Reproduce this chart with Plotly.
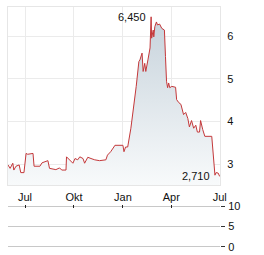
import plotly.graph_objects as go

dates = ["2023-05-30","2023-06-03","2023-06-08","2023-06-10","2023-06-14","2023-06-20","2023-06-23","2023-06-29",
         "2023-07-03","2023-07-06","2023-07-16","2023-07-18","2023-07-29","2023-08-02","2023-08-13","2023-08-16",
         "2023-08-28","2023-09-04","2023-09-08","2023-09-16","2023-09-17","2023-09-23","2023-09-29","2023-10-03",
         "2023-10-08","2023-10-12","2023-10-18","2023-10-21","2023-10-27","2023-11-02","2023-11-09","2023-11-18",
         "2023-11-30","2023-12-03","2023-12-09","2023-12-15","2023-12-17","2024-01-01","2024-01-03","2024-01-06",
         "2024-01-10","2024-01-16","2024-01-24","2024-01-26","2024-01-31","2024-02-02","2024-02-06","2024-02-08",
         "2024-02-11","2024-02-13","2024-02-17","2024-02-21","2024-02-23","2024-02-24","2024-02-27","2024-02-28",
         "2024-03-01","2024-03-04","2024-03-06","2024-03-10","2024-03-14","2024-03-19","2024-03-21","2024-03-23",
         "2024-03-25","2024-03-27","2024-03-29","2024-04-02","2024-04-09","2024-04-11","2024-04-15","2024-04-19",
         "2024-04-24","2024-04-28","2024-05-02","2024-05-05","2024-05-09","2024-05-13","2024-05-17","2024-05-20",
         "2024-05-24","2024-05-26","2024-05-30","2024-06-03","2024-06-16","2024-06-18","2024-06-20","2024-06-22",
         "2024-06-24","2024-06-28","2024-07-01"]
prices = [2.98,2.90,3.02,2.86,2.95,2.98,2.80,2.80,
          3.25,3.23,3.25,2.95,2.95,3.03,3.08,2.90,
          2.87,2.91,2.86,2.86,3.17,3.09,3.02,3.13,
          3.10,3.17,3.13,3.02,3.16,3.13,3.10,3.08,
          3.10,3.21,3.29,3.40,3.44,3.44,3.29,3.40,
          3.40,3.84,4.59,4.82,5.40,5.44,5.60,5.17,
          5.36,5.17,5.44,5.72,6.45,5.95,6.14,5.98,
          6.22,6.33,6.26,6.28,6.18,6.14,5.52,4.94,
          4.79,4.90,4.79,4.82,4.80,4.51,4.44,4.40,
          4.16,4.21,4.07,3.87,4.02,3.84,3.91,3.75,
          3.75,4.02,3.81,3.65,3.65,3.33,2.98,2.74,
          2.80,2.79,2.71]

tick_dates = ["2023-07-01","2023-10-01","2024-01-01","2024-04-01","2024-07-01"]
tick_text = ["Jul","Okt","Jan","Apr","Jul"]
y_ticks = [3, 4, 5, 6]
vol_ticks = [0, 5, 10]
peak_label = "6,450"
last_label = "2,710"

W, H = 264, 255
FONT = "Liberation Sans"

fig = go.Figure()
fig.add_trace(go.Scatter(
    x=dates, y=prices, mode="lines",
    line=dict(color="#c4383a", width=1),
    fill="tozeroy",
    fillgradient=dict(type="vertical", start=2.5, stop=6.5,
                      colorscale=[[0, "#f8fafb"], [1, "#c6d2db"]]),
    xaxis="x", yaxis="y", hoverinfo="skip"))

# invisible trace for lower panel
fig.add_trace(go.Scatter(x=[dates[0]], y=[None], xaxis="x2", yaxis="y2",
                         mode="lines", showlegend=False))

peak_i = prices.index(max(prices))
fig.add_annotation(x=dates[peak_i], y=prices[peak_i], text=peak_label, showarrow=False,
                   xanchor="right", yanchor="middle", xshift=-3,
                   font=dict(family=FONT, size=11, color="#111"), xref="x", yref="y")
fig.add_annotation(x=dates[-1], y=prices[-1], text=last_label, showarrow=False,
                   xanchor="right", yanchor="middle", xshift=-8,
                   font=dict(family=FONT, size=11, color="#111"), xref="x", yref="y")

xrange = ["2023-05-30", "2024-07-01 12:00"]
xd = [8 / W, 220 / W]
fig.update_layout(
    width=W, height=H, autosize=False,
    margin=dict(l=0, r=0, t=0, b=0),
    paper_bgcolor="white", plot_bgcolor="white",
    showlegend=False,
    font=dict(family=FONT, size=11, color="#111"),
    xaxis=dict(domain=xd, range=xrange, type="date",
               tickvals=tick_dates, ticktext=tick_text,
               showgrid=True, gridcolor="#ebebeb", gridwidth=1,
               showline=True, linecolor="#e6e6e6", mirror=True,
               ticks="", ticklabelstandoff=2, automargin=False,
               zeroline=False, anchor="y"),
    yaxis=dict(domain=[1 - 185 / H, 1 - 7 / H], range=[2.51, 6.68],
               side="right", tickvals=y_ticks,
               showgrid=True, gridcolor="#ebebeb", gridwidth=1,
               showline=True, linecolor="#e6e6e6", mirror=True,
               ticks="", ticklabelstandoff=4, automargin=False,
               zeroline=False, anchor="x"),
    xaxis2=dict(domain=xd, range=xrange, type="date",
                tickvals=tick_dates[:-1], showticklabels=False,
                side="top", ticks="inside", ticklen=3, tickcolor="#222",
                showgrid=False, showline=False, zeroline=False,
                automargin=False, anchor="y2"),
    yaxis2=dict(domain=[1 - 248 / H, 1 - 205 / H], range=[-0.25, 10.25],
                side="right", tickvals=vol_ticks,
                showgrid=True, gridcolor="#c8c8c8", gridwidth=1,
                ticks="outside", ticklen=4, tickcolor="#333",
                ticklabelstandoff=1,
                showline=False, zeroline=False, automargin=False, anchor="x2"),
)

fig.write_html("out.html")
